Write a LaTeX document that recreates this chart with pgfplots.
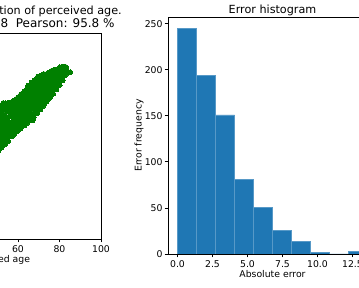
\documentclass[border=0pt]{standalone}
\usepackage{pgfplots}
\pgfplotsset{compat=1.18}
\usepackage{fontspec}
\setmainfont{DejaVu Sans}
\definecolor{barblue}{HTML}{1F77B4}
\definecolor{mplgreen}{HTML}{008000}
\newcommand{\tickfont}{\fontsize{9.3}{11}\selectfont}
\newcommand{\titlefont}{\fontsize{11.2}{13}\selectfont}
\begin{document}
\begin{tikzpicture}
\path[use as bounding box] (0pt,0pt) rectangle (359pt,288pt);
\clip (0pt,0pt) rectangle (359pt,288pt);
% ---------- left: scatter ----------
\begin{axis}[
  at={(-106.5pt,49pt)}, anchor=south west,
  scale only axis, width=207.5pt, height=206pt,
  xmin=0, xmax=100, ymin=0, ymax=100,
  xtick={60,80,100}, ytick=\empty,
  tick pos=left, tick align=outside, major tick length=3.3pt,
  tick style={black, line width=0.75pt},
  axis line style={black, line width=0.75pt},
  ticklabel style={font=\tickfont, inner sep=0pt},
  /pgf/number format/assume math mode=true,
  xticklabel style={yshift=-3.5pt},
]
\addplot[only marks, mark=*, mark size=2.5pt, mark options={fill=mplgreen, draw=mplgreen, line width=0pt}] coordinates {
(47.9,39.5) (47.3,42.1) (47.8,44.6) (47.4,47.2) (48.0,49.4) (47.5,52.1) (47.7,54.6) (47.2,57.0) (47.9,59.3) (47.6,62.2)
(49.0,41.2) (49.5,43.4) (49.1,46.1) (49.4,48.7) (48.9,51.0) (49.6,53.5) (49.2,56.2) (48.8,58.4) (49.5,61.1) (49.1,63.6)
(50.6,42.9) (51.1,45.3) (50.7,47.5) (51.0,50.2) (50.5,52.3) (50.9,54.9) (51.2,57.1) (50.6,59.7) (51.0,62.1) (50.7,64.5)
(52.1,44.4) (52.6,46.5) (52.2,49.1) (52.5,51.3) (52.0,53.9) (52.4,56.1) (52.7,58.7) (52.1,61.0) (52.5,63.3) (52.9,66.0)
(53.7,46.1) (54.1,48.2) (53.8,50.7) (54.2,52.8) (53.6,55.3) (54.0,57.4) (53.8,59.9) (54.3,62.0) (53.7,64.5) (54.1,65.9)
(55.2,47.5) (55.7,49.7) (55.3,52.3) (55.6,54.5) (55.1,57.1) (55.5,59.3) (55.8,61.9) (55.2,64.1) (55.6,66.2)
(56.8,49.9) (57.3,52.1) (56.9,54.7) (57.2,56.9) (56.7,59.5) (57.1,61.7) (57.4,64.3) (56.9,66.4) (57.7,50.4)
(58.3,51.1) (58.8,53.3) (58.4,55.9) (58.7,58.1) (58.2,60.7) (58.6,62.9) (58.9,65.5) (58.4,67.3)
(59.9,52.5) (60.4,54.7) (60.0,57.3) (60.3,59.5) (59.8,62.1) (60.2,64.3) (60.5,66.9) (60.0,68.8)
(61.4,53.9) (61.9,56.1) (61.5,58.7) (61.8,60.9) (61.3,63.5) (61.7,65.7) (62.0,68.3) (61.5,70.3)
(63.0,55.1) (63.5,57.3) (63.1,59.9) (63.4,62.1) (62.9,64.7) (63.3,66.9) (63.6,69.5) (63.1,71.7)
(64.5,56.4) (65.0,58.6) (64.6,61.2) (64.9,63.4) (64.4,66.0) (64.8,68.2) (65.1,70.8) (64.6,73.0) (64.9,74.4)
(66.1,57.7) (66.6,59.9) (66.2,62.5) (66.5,64.7) (66.0,67.3) (66.4,69.5) (66.7,72.1) (66.2,74.3) (66.6,75.9)
(67.6,59.1) (68.1,61.3) (67.7,63.9) (68.0,66.1) (67.5,68.7) (67.9,70.9) (68.2,73.5) (67.7,75.7) (68.0,77.1) (67.0,57.6)
(69.2,61.1) (69.7,63.3) (69.3,65.9) (69.6,68.1) (69.1,70.7) (69.5,72.9) (69.8,75.5) (69.3,77.7) (69.6,78.8)
(70.7,62.9) (71.2,65.1) (70.8,67.7) (71.1,69.9) (70.6,72.5) (71.0,74.7) (71.3,77.3) (70.8,79.2)
(72.3,64.7) (72.8,66.9) (72.4,69.5) (72.7,71.7) (72.2,74.3) (72.6,76.5) (72.9,79.0) (72.4,80.1)
(73.8,66.7) (74.3,68.9) (73.9,71.5) (74.2,73.7) (73.7,76.3) (74.1,78.5) (74.4,80.6)
(75.4,68.5) (75.9,70.7) (75.5,73.3) (75.8,75.5) (75.3,78.1) (75.7,80.3) (76.0,81.5)
(76.9,70.5) (77.4,72.7) (77.0,75.3) (77.3,77.5) (76.8,80.1) (77.2,82.0)
(78.5,72.7) (79.0,74.9) (78.6,77.5) (78.9,79.7) (78.4,82.2)
(80.0,74.7) (80.5,76.9) (80.1,79.5) (80.4,81.7) (80.2,83.4)
(81.5,77.1) (82.0,79.3) (81.6,81.9) (81.9,83.7)
(82.9,79.6) (83.4,81.7) (83.0,83.5)
(84.1,81.0) (85.1,80.9)
};
\end{axis}
% ---------- right: histogram ----------
\begin{axis}[
  at={(168pt,34pt)}, anchor=south west,
  scale only axis, width=209pt, height=237pt,
  xmin=-0.6785, xmax=14.2485, ymin=0, ymax=257.25,
  xtick={0,2.5,...,12.5}, ytick={0,50,...,250},
  tick pos=left, tick align=outside, major tick length=3.3pt,
  tick style={black, line width=0.75pt},
  axis line style={black, line width=0.75pt},
  ticklabel style={font=\tickfont, inner sep=0pt},
  /pgf/number format/assume math mode=true,
  xticklabel style={yshift=-3.5pt, /pgf/number format/.cd, fixed, fixed zerofill, precision=1},
  yticklabel style={xshift=-2pt},
  axis on top,
]
\addplot[ybar interval, fill=barblue, draw=barblue!75!white, line width=0.4pt] coordinates {
(0,245) (1.357,194) (2.714,151) (4.071,81) (5.428,51) (6.785,26) (8.142,14) (9.499,2) (10.856,0) (12.213,3) (13.57,3)
};
\end{axis}
% ---------- titles and labels ----------
\node[anchor=base east, inner sep=0pt, font=\titlefont] at (122pt,273.3pt) {Estimation of perceived age.};
\node[anchor=base east, inner sep=0pt, font=\fontsize{12}{14}\selectfont] at (114.8pt,260.7pt) {MAE: 2.8\ \ Pearson: 95.8 \%};
\node[anchor=base, inner sep=0pt, font=\titlefont] at (272.5pt,274pt) {Error histogram};
\node[anchor=base, inner sep=0pt, font=\tickfont] at (-2.75pt,25.5pt) {Perceived age};
\node[anchor=base, inner sep=0pt, font=\tickfont] at (272.5pt,10pt) {Absolute error};
\node[anchor=base, inner sep=0pt, rotate=90, font=\tickfont] at (141.5pt,152.5pt) {Error frequency};
\end{tikzpicture}
\end{document}
